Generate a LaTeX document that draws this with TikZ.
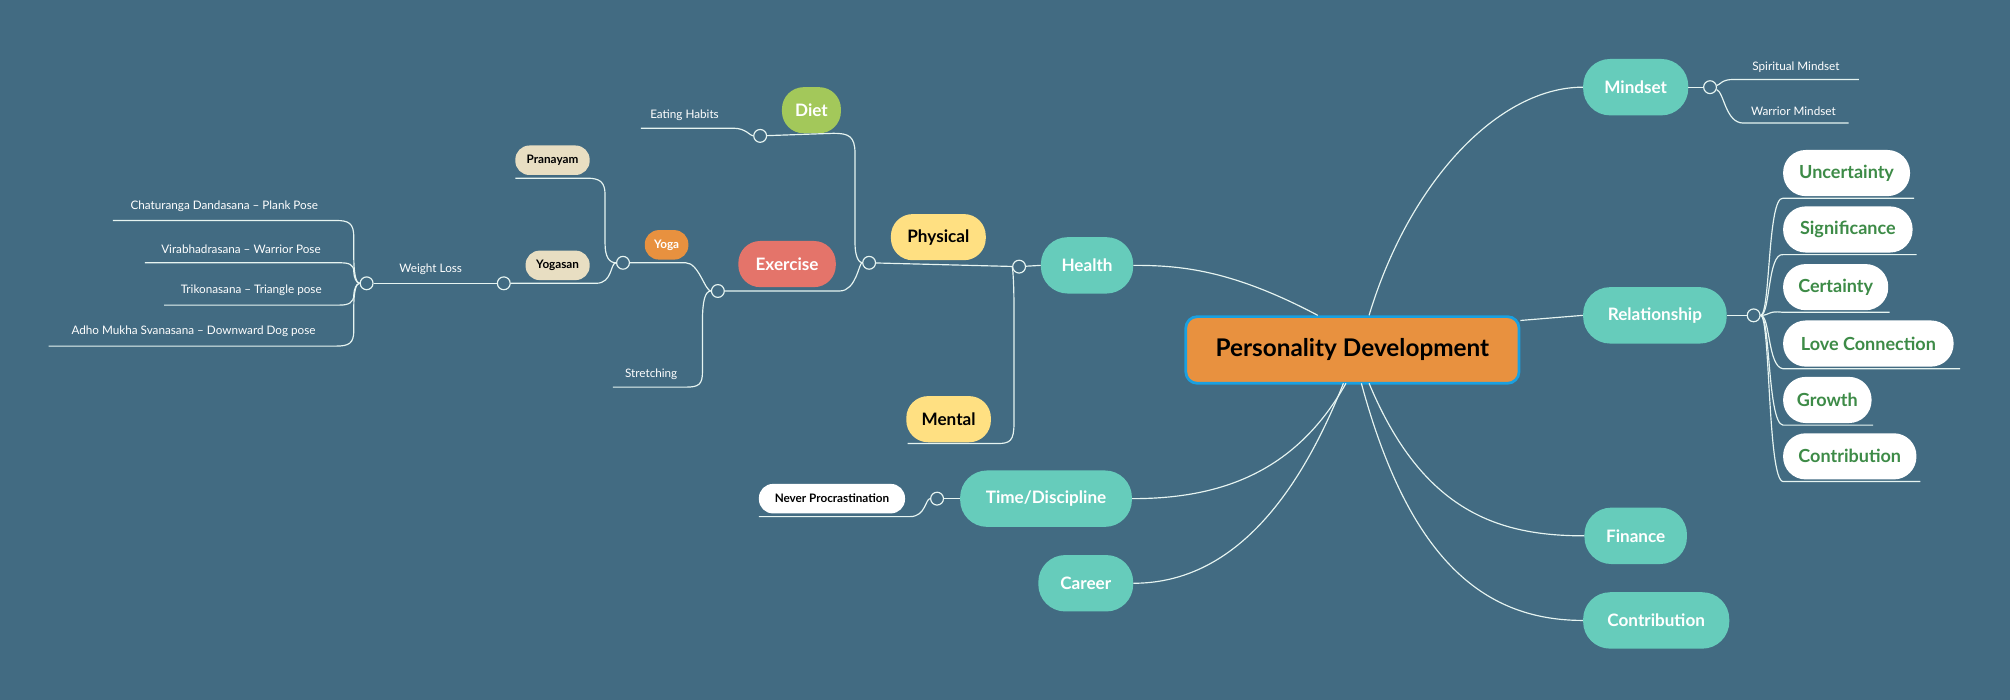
\documentclass[tikz,border=0pt]{standalone}
\usepackage{fontspec}
\setmainfont{Lato}
\usetikzlibrary{calc}
\definecolor{bg}{HTML}{426B82}
\definecolor{teal}{HTML}{66CCBB}
\definecolor{ln}{HTML}{E6F4F1}
\definecolor{cen}{HTML}{E8913F}
\definecolor{cenb}{HTML}{1AA0E0}
\definecolor{yel}{HTML}{FFE082}
\definecolor{dietg}{HTML}{A3C85A}
\definecolor{sal}{HTML}{E4746A}
\definecolor{yog}{HTML}{E8913F}
\definecolor{beig}{HTML}{E8DEC2}
\definecolor{grn}{HTML}{3D8B47}
\tikzset{
 conn/.style={draw=ln,line width=1.3pt},
 dot/.style={circle,draw=ln,fill=bg,line width=1.3pt,minimum size=0.5cm,inner sep=0},
 mainpill/.style={fill=teal,text=white,rounded corners=1.05cm,minimum height=2.2cm,inner sep=0,font=\fontsize{19}{22}\selectfont\bfseries},
 subpill/.style={rounded corners=0.85cm,minimum height=1.8cm,inner sep=0,font=\fontsize{19}{22}\selectfont\bfseries},
 smallpill/.style={rounded corners=0.55cm,minimum height=1.15cm,inner sep=0,font=\fontsize{13}{15}\selectfont\bfseries},
 relpill/.style={fill=white,text=grn,rounded corners=0.88cm,minimum height=1.8cm,inner sep=0,font=\fontsize{20}{24}\selectfont\bfseries},
 leaf/.style={text=white,inner sep=0,font=\fontsize{13}{15}\selectfont,anchor=south},
}
\begin{document}
\begin{tikzpicture}[x=0.05cm,y=-0.05cm]
\fill[bg] (0,0) rectangle (1568,546);
\useasboundingbox (0,0) rectangle (1568,546);
% nodes
\node[fill=cen,draw=cenb,line width=3pt,rounded corners=0.45cm,minimum width=13.0cm,minimum height=2.6cm,font=\fontsize{27}{30}\selectfont\bfseries] (c) at (1055,273) {Personality Development};
\node[mainpill,minimum width=4.1cm] (mind) at (1276,68) {Mindset};
\node[mainpill,minimum width=5.6cm] (rel) at (1291,246) {Relationship};
\node[mainpill,minimum width=4.0cm] (fin) at (1276,418) {Finance};
\node[mainpill,minimum width=5.7cm] (contr) at (1292,484) {Contribution};
\node[mainpill,minimum width=3.6cm] (health) at (848,207) {Health};
\node[mainpill,minimum width=6.7cm] (time) at (816,389) {Time/Discipline};
\node[mainpill,minimum width=3.7cm] (career) at (847,455) {Career};
\node[subpill,fill=yel,minimum width=3.7cm] (phys) at (732,185) {Physical};
\node[subpill,fill=yel,minimum width=3.3cm] (ment) at (740,327) {Mental};
\node[subpill,fill=dietg,text=white,minimum width=2.3cm] (diet) at (633,86) {Diet};
\node[subpill,fill=sal,text=white,minimum width=3.8cm] (exer) at (614,206) {Exercise};
\node[smallpill,fill=yog,text=white,minimum width=1.7cm] (yoga) at (520,191) {Yoga};
\node[smallpill,fill=beig,minimum width=2.9cm] (pran) at (431,125) {Pranayam};
\node[smallpill,fill=beig,minimum width=2.5cm] (yogs) at (435,207) {Yogasan};
\node[smallpill,fill=white,minimum width=5.7cm] (never) at (649,389) {Never Procrastination};
\node[relpill,minimum width=4.95cm] (r1) at (1440.5,135) {Uncertainty};
\node[relpill,minimum width=5.05cm] (r2) at (1441.5,179) {Significance};
\node[relpill,minimum width=4.1cm] (r3) at (1432,224) {Certainty};
\node[relpill,minimum width=6.65cm] (r4) at (1457.5,268) {Love Connection};
\node[relpill,minimum width=3.45cm] (r5) at (1425.5,312) {Growth};
\node[relpill,minimum width=5.2cm] (r6) at (1443,356) {Contribution};
% dots
\node[dot] (dm) at (1334,68) {};
\node[dot] (dr) at (1368,246) {};
\node[dot] (dh) at (795,208) {};
\node[dot] (dp) at (678,205) {};
\node[dot] (dd) at (593,106) {};
\node[dot] (de) at (560,227) {};
\node[dot] (dy) at (486,205) {};
\node[dot] (dw) at (393,221) {};
\node[dot] (dl) at (286,221) {};
\node[dot] (dt) at (731,389) {};
% leaf texts
\node[leaf] (sm) at (1401,57) {Spiritual Mindset};
\node[leaf] (wm) at (1399,90) {Warrior Mindset};
\node[leaf] (eh) at (534,94) {Eating Habits};
\node[leaf] (st) at (508,296) {Stretching};
\node[leaf] (wl) at (336,214) {Weight Loss};
\node[leaf] (l1) at (175,165) {Chaturanga Dandasana – Plank Pose};
\node[leaf] (l2) at (188,198) {Virabhadrasana – Warrior Pose};
\node[leaf] (l3) at (196,231) {Trikonasana – Triangle pose};
\node[leaf] (l4) at (151,263) {Adho Mukha Svanasana – Downward Dog pose};
% central connectors
\draw[conn] (1068,246) .. controls (1100,140) and (1170,68) .. (mind.west);
\draw[conn] (1186,250) .. controls (1210,248) .. (rel.west);
\draw[conn] (1068,299) .. controls (1110,400) and (1170,418) .. (fin.west);
\draw[conn] (1062,299) .. controls (1100,440) and (1160,484) .. (contr.west);
\draw[conn] (1028,246) .. controls (960,210) and (920,207) .. (health.east);
\draw[conn] (1050,299) .. controls (1010,370) and (950,389) .. (time.east);
\draw[conn] (1048,299) .. controls (1000,420) and (940,455) .. (career.east);
% mindset
\draw[conn] (mind.east) -- (dm);
\draw[conn] (dm) .. controls (1342,66) and (1343,62) .. (1352,62) -- (1450,62);
\draw[conn] (dm) .. controls (1345,72) and (1346,96) .. (1360,96) -- (1442,96);
% relationship
\draw[conn] (rel.east) -- (dr);
\foreach \r/\e in {r1/3,r2/3,r3/1,r4/5,r5/1,r6/3}{
 \draw[conn] (dr) .. controls ($(dr)+(13,0)$) and ($(\r.south west)+(-12,0)$) .. ($(\r.south west)+(0,1.5)$) -- ($(\r.south east)+(\e,1.5)$);
}
% health
\draw[conn] (health.west) -- (dh);
\draw[conn] (dh) -- (dp);
\draw[conn] (dh) .. controls (790,208) and (791,220) .. (791,240) -- (791,330) .. controls (791,344) and (788,346) .. (778,346) -- (708,346);
% physical
\draw[conn] (dp) .. controls (670,205) and (667,200) .. (667,190) -- (667,120) .. controls (667,106) and (662,104) .. (650,104) -- (dd);
\draw[conn] (dd) .. controls (585,106) and (582,100) .. (572,100) -- (500,100);
\draw[conn] (dp) .. controls (670,205) and (668,227) .. (655,227) -- (de);
% exercise
\draw[conn] (de) .. controls (550,227) and (545,205) .. (535,205) -- (dy);
\draw[conn] (de) .. controls (550,227) and (548,235) .. (548,250) -- (548,290) .. controls (548,300) and (545,302) .. (535,302) -- (478,302);
% yoga
\draw[conn] (dy) .. controls (475,205) and (472,200) .. (472,190) -- (472,152) .. controls (472,142) and (468,139) .. (458,139) -- (402,139);
\draw[conn] (dy) .. controls (476,205) and (478,221) .. (465,221) -- (dw);
\draw[conn] (dw) -- (dl);
\draw[conn] (dl) .. controls (278,221) and (276,215) .. (276,200) -- (276,185) .. controls (276,174) and (272,172) .. (262,172) -- (88,172);
\draw[conn] (dl) .. controls (278,221) and (276,216) .. (276,212) .. controls (276,206) and (272,205) .. (265,205) -- (113,205);
\draw[conn] (dl) .. controls (278,221) and (276,226) .. (276,230) .. controls (276,236) and (272,238) .. (265,238) -- (128,238);
\draw[conn] (dl) .. controls (278,221) and (276,226) .. (276,240) -- (276,258) .. controls (276,268) and (272,270) .. (262,270) -- (38,270);
% time
\draw[conn] (time.west) -- (dt);
\draw[conn] (dt) .. controls (722,389) and (722,403) .. (710,403) -- (592,403);
\end{tikzpicture}
\end{document}
